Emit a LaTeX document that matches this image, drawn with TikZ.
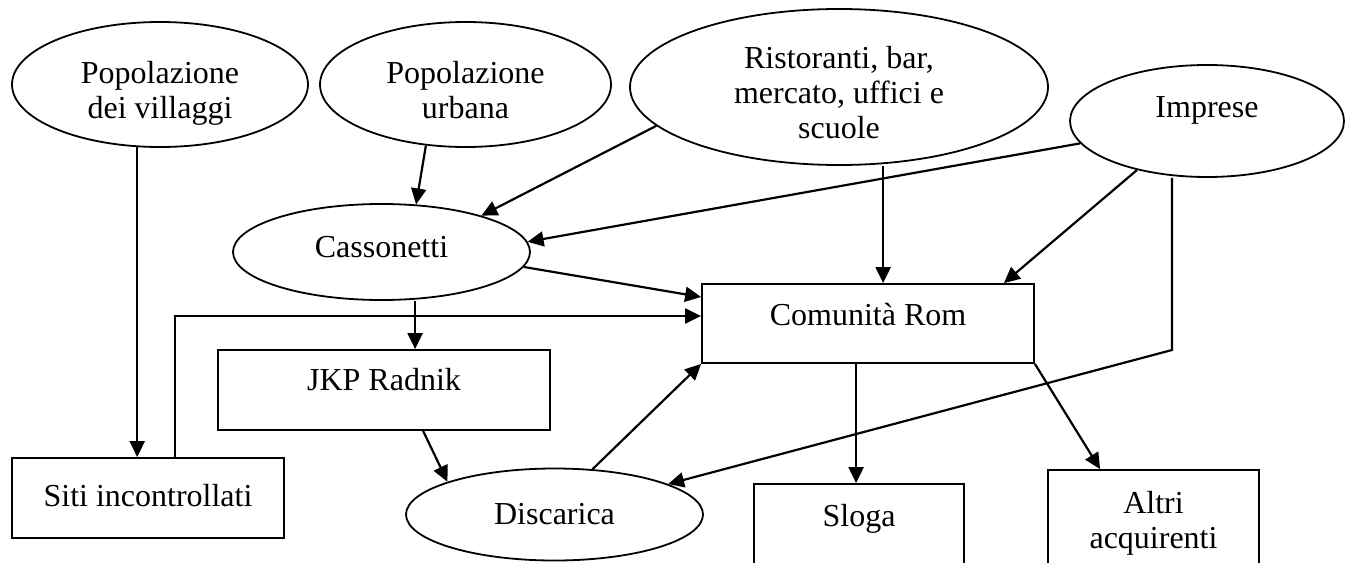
\documentclass[tikz,border=0pt]{standalone}
\usepackage{fontspec}
\setmainfont{Liberation Serif}
\usetikzlibrary{shapes.geometric,arrows.meta,calc}
\newcommand\liftt[2]{\raisebox{#1}[\height][\depth]{#2}}
\begin{document}
\begin{tikzpicture}[x=0.5pt,y=-0.5pt,
  every node/.style={font={\fontsize{16pt}{17.5pt}\selectfont}, inner sep=0pt},
  ell/.style={draw, ellipse, line width=0.9pt},
  boxx/.style={draw, rectangle, line width=0.9pt},
  conn/.style={line width=1.1pt, -{Triangle[length=8pt,width=7.5pt]}}]
\useasboundingbox (0,0) rectangle (1353,562);
\clip (0,0) rectangle (1353,562);

% ellipses
\node[ell, minimum width=148pt, minimum height=62.5pt] (vil) at (160,84.5)
  {\liftt{-4.5pt}{\begin{tabular}{@{}c@{}}Popolazione\\dei villaggi\end{tabular}}};
\node[ell, minimum width=145.5pt, minimum height=62.5pt] (urb) at (465.5,84.5)
  {\liftt{-4.5pt}{\begin{tabular}{@{}c@{}}Popolazione\\urbana\end{tabular}}};
\node[ell, minimum width=209pt, minimum height=78pt] (ris) at (839,87)
  {\liftt{-4.5pt}{\begin{tabular}{@{}c@{}}Ristoranti, bar,\\mercato, uffici e\\scuole\end{tabular}}};
\node[ell, minimum width=137pt, minimum height=56pt] (imp) at (1207,121)
  {\liftt{5.5pt}{Imprese}};
\node[ell, minimum width=148.5pt, minimum height=48pt] (cas) at (381.5,252)
  {\liftt{2.5pt}{Cassonetti}};
\node[ell, minimum width=148.5pt, minimum height=46pt] (dis) at (554.5,514.5)
  {Discarica};

% boxes
\node[boxx, minimum width=166pt, minimum height=39.5pt] (com) at (868,323.5)
  {\liftt{4.25pt}{Comunità Rom}};
\node[boxx, minimum width=166pt, minimum height=40pt] (jkp) at (384,390)
  {\liftt{5pt}{JKP Radnik}};
\node[boxx, minimum width=136pt, minimum height=40pt] (siti) at (148,498)
  {\liftt{1pt}{Siti incontrollati}};
\node[boxx, minimum width=105pt, minimum height=50pt] (slo) at (859,534)
  {\liftt{7.5pt}{Sloga}};
\node[boxx, minimum width=105.5pt, minimum height=50pt] (alt) at (1153.5,520)
  {\liftt{-2pt}{\begin{tabular}{@{}c@{}}Altri\\acquirenti\end{tabular}}};

% helper coordinates on box borders
\coordinate (comN) at ($(com.north west)+(182,0)$);
\coordinate (comNE) at ($(com.north east)+(-31,0)$);
\coordinate (comW1) at ($(com.west)+(0,-26.5)$);
\coordinate (comW2) at ($(com.west)+(0,-7.5)$);
\coordinate (comS) at ($(com.south west)+(155,0)$);
\coordinate (sitiN) at ($(siti.north west)+(164,0)$);
\coordinate (jkpN) at ($(jkp.north west)+(198,0)$);
\coordinate (jkpS) at ($(jkp.south west)+(206,0)$);
\coordinate (altN) at ($(alt.north west)+(53,0)$);
\coordinate (bend) at (1172,350);

% connectors
\draw[conn] (vil.250) -- (vil.250 |- siti.north);
\draw[conn] (urb.237) -- (cas.54);
\draw[conn] (ris.192) -- (cas.20);
\draw[conn] (imp.190) -- (cas.4);
\draw[conn] (ris.south -| comN) -- (comN);
\draw[conn] (imp.215) -- (comNE);
\draw[conn] (imp.south -| bend) -- (bend) -- (dis.15);
\draw[conn] (cas.-6) -- (comW1);
\draw[conn] (sitiN) |- (comW2);
\draw[conn] (cas.south -| jkpN) -- (jkpN);
\draw[conn] (jkpS) -- (dis.163);
\draw[conn] (dis.50) -- (com.south west);
\draw[conn] (comS) -- (comS |- slo.north);
\draw[conn] (com.south east) -- (altN);
\end{tikzpicture}
\end{document}
